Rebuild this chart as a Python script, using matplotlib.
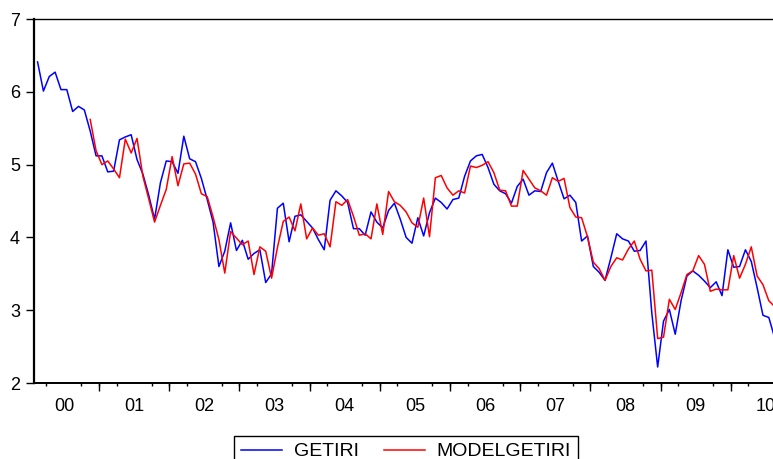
import numpy as np
import matplotlib.pyplot as plt

plt.rcParams['font.family'] = ['Liberation Sans', 'DejaVu Sans']

# monthly series, GETIRI starts 2000M02, MODELGETIRI starts 2000M11
getiri_start = 1
model_start = 10

getiri = [6.41, 6.01, 6.21, 6.27, 6.03, 6.03, 5.73, 5.80, 5.75, 5.46,
          5.12, 5.12, 4.90, 4.91, 5.34, 5.38, 5.41, 5.07, 4.87, 4.58,
          4.25, 4.75, 5.05, 5.04, 4.88, 5.39, 5.08, 5.04, 4.81, 4.52,
          4.21, 3.60, 3.81, 4.20, 3.82, 3.96, 3.70, 3.78, 3.83, 3.38,
          3.50, 4.40, 4.47, 3.94, 4.29, 4.31, 4.22, 4.13, 3.97, 3.83,
          4.51, 4.64, 4.57, 4.48, 4.12, 4.12, 4.03, 4.35, 4.21, 4.13,
          4.37, 4.47, 4.25, 4.00, 3.92, 4.27, 4.02, 4.34, 4.54, 4.48,
          4.39, 4.52, 4.54, 4.84, 5.05, 5.12, 5.14, 4.96, 4.73, 4.64,
          4.60, 4.47, 4.70, 4.80, 4.58, 4.64, 4.63, 4.89, 5.02, 4.77,
          4.53, 4.58, 4.48, 3.95, 4.02, 3.60, 3.52, 3.41, 3.72, 4.05,
          3.98, 3.95, 3.81, 3.82, 3.95, 2.96, 2.22, 2.85, 3.01, 2.67,
          3.13, 3.47, 3.54, 3.48, 3.40, 3.31, 3.39, 3.20, 3.83, 3.59,
          3.60, 3.83, 3.67, 3.31, 2.93, 2.90, 2.62]

modelgetiri = [5.62, 5.19, 5.00, 5.05, 4.94, 4.82, 5.35, 5.16, 5.36, 4.84,
               4.53, 4.21, 4.44, 4.66, 5.11, 4.71, 5.01, 5.02, 4.87, 4.60,
               4.56, 4.28, 3.97, 3.51, 4.08, 3.99, 3.90, 3.95, 3.49, 3.87,
               3.81, 3.44, 3.86, 4.22, 4.28, 4.09, 4.46, 3.98, 4.13, 4.03,
               4.05, 3.87, 4.49, 4.44, 4.52, 4.29, 4.03, 4.05, 3.98, 4.46,
               4.04, 4.63, 4.49, 4.44, 4.35, 4.20, 4.14, 4.54, 4.01, 4.82,
               4.85, 4.68, 4.58, 4.64, 4.61, 4.98, 4.96, 4.99, 5.04, 4.89,
               4.65, 4.64, 4.43, 4.43, 4.92, 4.80, 4.68, 4.64, 4.58, 4.82,
               4.77, 4.81, 4.41, 4.28, 4.27, 4.01, 3.66, 3.57, 3.41, 3.60,
               3.72, 3.69, 3.84, 3.95, 3.70, 3.54, 3.55, 2.61, 2.63, 3.15,
               3.01, 3.24, 3.49, 3.54, 3.75, 3.63, 3.26, 3.29, 3.28, 3.28,
               3.75, 3.44, 3.63, 3.87, 3.47, 3.35, 3.13, 3.05]

years = ['00', '01', '02', '03', '04', '05', '06', '07', '08', '09', '10']
yticks = [2, 3, 4, 5, 6, 7]

fig = plt.figure(figsize=(7.73, 4.59), dpi=100)
ax = fig.add_axes([34 / 773, 76 / 459, 742 / 773, 364 / 459])

x_g = np.arange(len(getiri)) + getiri_start
x_m = np.arange(len(modelgetiri)) + model_start
ax.plot(x_g, getiri, color='#0000ff', lw=1.1, label='GETIRI')
ax.plot(x_m, modelgetiri, color='#ff0000', lw=1.1, label='MODELGETIRI')

ax.set_yticks(yticks)
ax.tick_params(axis='y', length=6, width=1, pad=4, labelsize=13, direction='out')

# year labels centred in each year, quarter ticks, longer ticks at year ends
centers = [12 * k + 5.5 for k in range(len(years))]
ax.set_xticks(centers, years)
ax.set_xticks([3 * j - 0.5 for j in range(4 * len(years) + 1)], minor=True)
ax.tick_params(axis='x', which='major', length=0, pad=11, labelsize=13)
ax.tick_params(axis='x', which='minor', length=2.5, width=1, direction='out')
sec = ax.secondary_xaxis('bottom')
sec.set_xticks([12 * k - 0.5 for k in range(len(years) + 1)], labels=[])
sec.tick_params(length=5.5, width=1, direction='out')
sec.spines['bottom'].set_visible(False)

# limits last, set_xticks widens them
ax.set_xlim(0.39, 0.39 + 742 / 5.85)
ax.set_ylim(2, 7)

ax.spines['left'].set_linewidth(1.6)
ax.spines['bottom'].set_linewidth(1.4)
ax.spines['top'].set_linewidth(1.0)
ax.spines['right'].set_linewidth(1.0)

leg = fig.legend(loc='upper center', bbox_to_anchor=(406 / 773, 1 - 436 / 459),
                 ncol=2, frameon=True, fancybox=False, edgecolor='black',
                 framealpha=1, fontsize=14, handlelength=2.1,
                 handletextpad=0.6, columnspacing=1.3, borderpad=0.35,
                 borderaxespad=0)
leg.get_frame().set_linewidth(1.0)

fig.savefig('out.png', dpi=100)
